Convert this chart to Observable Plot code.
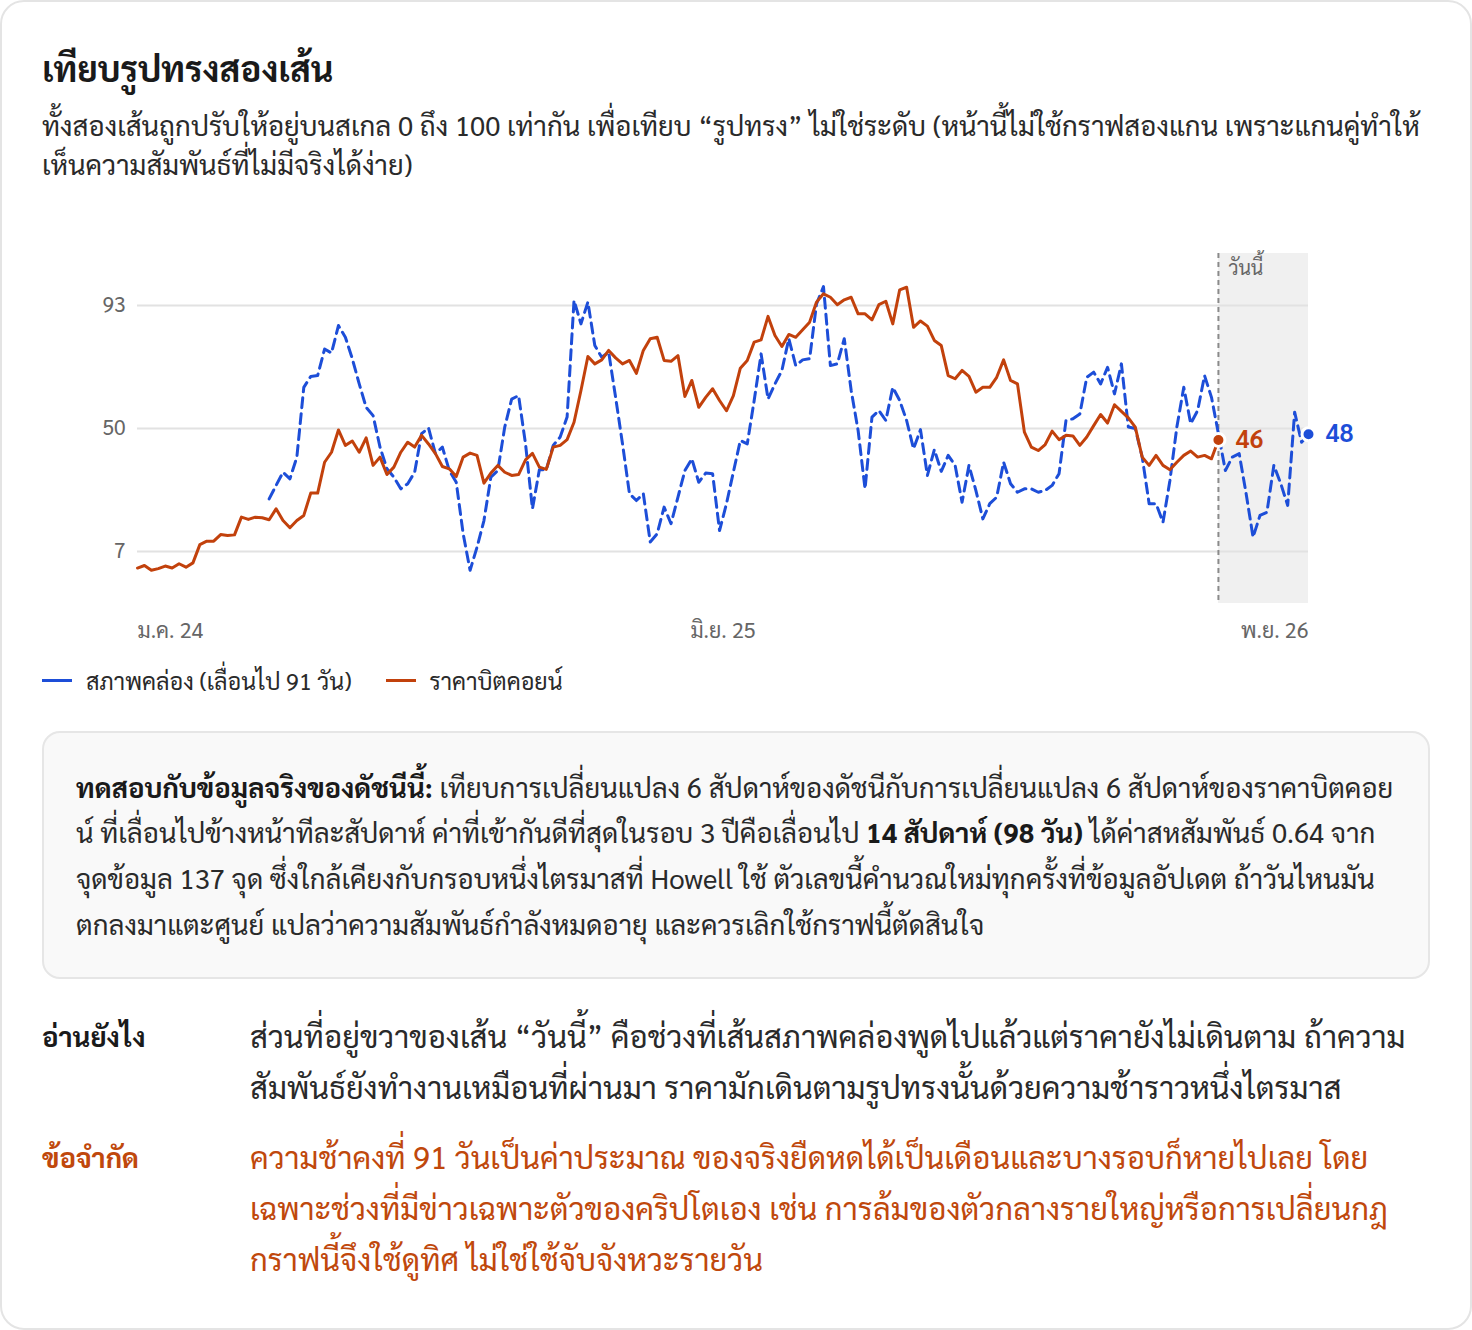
<!DOCTYPE html>
<html lang="th">
<head>
<meta charset="utf-8">
<script src="https://cdn.jsdelivr.net/npm/d3@7"></script>
<script src="https://cdn.jsdelivr.net/npm/@observablehq/plot@0.6"></script>
<style>
  html, body { margin: 0; padding: 0; background: #fff; }
  body { font-family: Sarabun, "Noto Sans Thai", sans-serif; color: #1f1f1f; }
  .card { position: relative; box-sizing: border-box; width: 1472px; height: 1330px;
          border: 2px solid #e4e4e4; border-radius: 24px; background: #fff; overflow: hidden; }
  .abs { position: absolute; }
  .title { left: 40px; top: 43px; margin: 0; font-size: 35px; font-weight: 700; line-height: 45px; color: #1a1a1a; white-space: nowrap; }
  .sub { left: 40px; top: 104px; width: 1390px; margin: 0; font-size: 27.5px; line-height: 38.5px; color: #2a2a2a; }
  #chart { left: 40px; top: 220px; }
  .legend { left: 40px; top: 663px; display: flex; align-items: center; font-size: 23.3px; line-height: 30px; color: #2a2a2a; white-space: nowrap; }
  .legend .sw { display: inline-block; width: 30px; height: 3px; margin-right: 14px; }
  .legend .item { display: flex; align-items: center; margin-right: 34px; }
  .box { left: 40px; top: 729px; box-sizing: border-box; width: 1388px; height: 248px;
         border: 2px solid #e6e6e6; border-radius: 18px; background: #f9f9f9;
         padding: 30.6px 30px 0 32px; font-size: 27.5px; line-height: 45.7px; color: #2a2a2a; }
  .box b { font-weight: 700; color: #1a1a1a; }
  .row { left: 40px; display: flex; width: 1390px; }
  .row .lab { width: 208px; flex: none; font-size: 27.5px; font-weight: 700; line-height: 51px; color: #1a1a1a; }
  .row .txt { flex: 1; font-size: 31px; line-height: 51px; color: #2a2a2a; }
  .row.lim .lab, .row.lim .txt { color: #c0480c; }
</style>
</head>
<body>
<div class="card">
  <h1 class="abs title">เทียบรูปทรงสองเส้น</h1>
  <p class="abs sub">ทั้งสองเส้นถูกปรับให้อยู่บนสเกล 0 ถึง 100 เท่ากัน เพื่อเทียบ “รูปทรง” ไม่ใช่ระดับ (หน้านี้ไม่ใช้กราฟสองแกน เพราะแกนคู่ทำให้เห็นความสัมพันธ์ที่ไม่มีจริงได้ง่าย)</p>
  <div id="chart" class="abs"></div>
  <div class="abs legend" id="legend"></div>
  <div class="abs box"><b>ทดสอบกับข้อมูลจริงของดัชนีนี้:</b> เทียบการเปลี่ยนแปลง 6 สัปดาห์ของดัชนีกับการเปลี่ยนแปลง 6 สัปดาห์ของราคาบิตคอยน์ ที่เลื่อนไปข้างหน้าทีละสัปดาห์ ค่าที่เข้ากันดีที่สุดในรอบ 3 ปีคือเลื่อนไป <b>14 สัปดาห์ (98 วัน)</b> ได้ค่าสหสัมพันธ์ 0.64 จากจุดข้อมูล 137 จุด ซึ่งใกล้เคียงกับกรอบหนึ่งไตรมาสที่ Howell ใช้ ตัวเลขนี้คำนวณใหม่ทุกครั้งที่ข้อมูลอัปเดต ถ้าวันไหนมันตกลงมาแตะศูนย์ แปลว่าความสัมพันธ์กำลังหมดอายุ และควรเลิกใช้กราฟนี้ตัดสินใจ</div>
  <div class="abs row" style="top:1008px"><div class="lab">อ่านยังไง</div><div class="txt">ส่วนที่อยู่ขวาของเส้น “วันนี้” คือช่วงที่เส้นสภาพคล่องพูดไปแล้วแต่ราคายังไม่เดินตาม ถ้าความสัมพันธ์ยังทำงานเหมือนที่ผ่านมา ราคามักเดินตามรูปทรงนั้นด้วยความช้าราวหนึ่งไตรมาส</div></div>
  <div class="abs row lim" style="top:1129px"><div class="lab">ข้อจำกัด</div><div class="txt">ความช้าคงที่ 91 วันเป็นค่าประมาณ ของจริงยืดหดได้เป็นเดือนและบางรอบก็หายไปเลย โดยเฉพาะช่วงที่มีข่าวเฉพาะตัวของคริปโตเอง เช่น การล้มของตัวกลางรายใหญ่หรือการเปลี่ยนกฎ กราฟนี้จึงใช้ดูทิศ ไม่ใช่ใช้จับจังหวะรายวัน</div></div>
</div>
<script>
// ---- data (0–100 rescaled, weekly) ----
const seriesNames = ["สภาพคล่อง (เลื่อนไป 91 วัน)", "ราคาบิตคอยน์"];
const seriesColors = ["#1d4ed8", "#c2410c"];
const shiftDays = 91;
const liquidityFirstWeek = 6;
const todayLabel = "วันนี้";
const xTickLabels = ["ม.ค. 24", "มิ.ย. 25", "พ.ย. 26"];
const yTicks = [7, 50, 93];

const priceValues = [
  1.2, 2.1, 0.4, 1.0, 1.9, 1.2, 2.7, 1.5, 3.0, 9.4,
  10.6, 10.6, 12.9, 12.6, 12.8, 19.0, 18.2, 19.0, 18.8, 18.1,
  21.9, 17.8, 15.3, 17.8, 19.6, 27.4, 27.4, 38.2, 41.7, 49.5,
  44.1, 45.6, 41.7, 46.7, 37.1, 40.0, 33.9, 36.5, 41.7, 45.2,
  43.5, 47.6, 44.6, 41.2, 36.7, 35.9, 33.2, 40.0, 41.4, 40.6,
  30.9, 34.4, 37.1, 34.7, 33.6, 33.9, 39.0, 41.3, 36.5, 35.7,
  43.5, 44.1, 46.1, 52.2, 63.3, 75.2, 72.6, 74.0, 77.3, 74.7,
  72.6, 73.8, 69.3, 77.3, 81.4, 81.9, 73.8, 73.5, 75.5, 61.2,
  66.8, 57.4, 60.9, 63.9, 59.8, 56.2, 61.5, 71.1, 73.8, 80.2,
  81.0, 89.2, 82.5, 78.7, 82.9, 81.9, 84.5, 87.2, 94.2, 97.1,
  95.9, 93.3, 95.0, 95.9, 90.1, 90.1, 88.0, 93.3, 94.5, 86.6,
  98.5, 99.4, 85.4, 87.6, 85.8, 80.8, 79.0, 68.5, 67.4, 70.3,
  68.2, 62.7, 64.4, 64.4, 67.9, 74.0, 66.8, 65.6, 48.7, 43.5,
  42.3, 44.4, 49.1, 46.1, 47.6, 47.4, 44.1, 47.0, 51.0, 54.9,
  51.9, 58.3, 56.0, 53.7, 50.5, 40.0, 37.1, 40.6, 37.1, 35.6,
  38.2, 40.6, 42.1, 40.0, 40.6, 39.4, 46.0
];

const liquidityValues = [
  25.4, 30.1, 34.7, 32.4, 40.0, 64.4, 68.2, 68.5, 77.8, 76.4,
  86.0, 81.9, 74.4, 65.6, 57.4, 54.5, 43.5, 35.9, 33.0, 28.9,
  30.7, 34.7, 48.2, 50.2, 41.2, 43.5, 35.3, 31.2, 13.2, 0.4,
  8.5, 17.8, 33.0, 35.3, 50.5, 60.3, 61.5, 44.6, 21.9, 35.6,
  35.6, 44.1, 47.0, 54.0, 94.8, 86.6, 94.2, 79.0, 74.9, 76.7,
  60.9, 44.6, 27.2, 24.8, 27.2, 10.3, 13.2, 22.5, 16.7, 26.0,
  35.3, 39.4, 31.2, 34.4, 34.2, 14.3, 23.7, 34.8, 45.8, 44.6,
  59.8, 76.1, 60.3, 65.6, 70.3, 81.4, 72.0, 74.0, 74.4, 93.6,
  99.6, 72.0, 72.6, 81.4, 63.3, 49.3, 28.9, 54.0, 56.3, 52.8,
  64.4, 59.8, 52.8, 42.9, 49.6, 33.6, 42.6, 35.0, 40.6, 37.1,
  24.2, 37.1, 28.3, 18.4, 23.7, 26.0, 38.2, 30.7, 27.7, 28.9,
  28.9, 27.7, 28.3, 30.1, 34.2, 52.8, 53.4, 55.1, 67.9, 69.7,
  65.6, 71.4, 62.1, 72.6, 50.5, 50.0, 40.0, 23.7, 23.7, 17.2,
  31.8, 50.5, 64.4, 51.7, 56.3, 68.5, 60.9, 48.2, 35.3, 40.0,
  41.2, 27.2, 12.0, 19.6, 20.7, 37.1, 30.7, 23.1, 55.7, 45.2,
  48.0
];

// ---- build rows ----
const DAY = 864e5;
const startDate = new Date(Date.UTC(2023, 7, 14));
const price = priceValues.map((v, i) => ({date: new Date(+startDate + i * 7 * DAY), v}));
const liquidity = liquidityValues.map((v, k) => ({date: new Date(+startDate + (liquidityFirstWeek + k) * 7 * DAY + shiftDays * DAY), v}));
const today = price[price.length - 1];
const liqEnd = liquidity[liquidity.length - 1];
const xDomain = [startDate, liqEnd.date];
const tickDates = [startDate, new Date((+startDate + +liqEnd.date) / 2), liqEnd.date];
const ticks = tickDates.map((d, i) => ({date: d, label: xTickLabels[i]}));
const anchors = ["start", "middle", "end"];
const FONT = "Sarabun, 'Noto Sans Thai', sans-serif";

const chart = Plot.plot({
  width: 1388,
  height: 428,
  marginLeft: 95,
  marginRight: 122,
  marginTop: 31,
  marginBottom: 47,
  style: {fontFamily: FONT, fontSize: "21px", background: "transparent", overflow: "visible"},
  x: {type: "utc", domain: xDomain, axis: null},
  y: {domain: [-11.2, 111.2], axis: null},
  marks: [
    Plot.rectX([{x1: today.date, x2: liqEnd.date}], {x1: "x1", x2: "x2", fill: "#f0f0f0"}),
    Plot.ruleY(yTicks, {stroke: "#e2e2e2", strokeWidth: 2}),
    Plot.axisY({ticks: yTicks, label: null, tickSize: 0, tickPadding: 12, fill: "#666", fontSize: 21, tickFormat: d => String(d)}),
    ...ticks.map((t, i) => Plot.text([t], {x: "date", text: "label", frameAnchor: "bottom", lineAnchor: "middle", dy: 28, textAnchor: anchors[i], fill: "#666", fontSize: 21.5})),
    Plot.ruleX([today], {x: "date", stroke: "#8a8a8a", strokeWidth: 2, strokeDasharray: "5,4"}),
    Plot.text([today], {x: "date", text: () => todayLabel, frameAnchor: "top", lineAnchor: "middle", textAnchor: "start", dx: 10, dy: 15, fill: "#666", fontSize: 19.5}),
    Plot.line(liquidity, {x: "date", y: "v", stroke: seriesColors[0], strokeWidth: 3, strokeDasharray: "10,6", curve: "linear"}),
    Plot.line(price, {x: "date", y: "v", stroke: seriesColors[1], strokeWidth: 3, curve: "linear"}),
    Plot.dot([today], {x: "date", y: "v", r: 6.5, fill: seriesColors[1], stroke: "#fff", strokeWidth: 3}),
    Plot.dot([liqEnd], {x: "date", y: "v", r: 6.5, fill: seriesColors[0], stroke: "#fff", strokeWidth: 3}),
    Plot.text([today], {x: "date", y: "v", text: d => d3.format(".0f")(d.v), textAnchor: "start", dx: 17, fill: seriesColors[1], fontSize: 25, fontWeight: 600}),
    Plot.text([liqEnd], {x: "date", y: "v", text: d => d3.format(".0f")(Math.floor(d.v)), textAnchor: "start", dx: 17, fill: seriesColors[0], fontSize: 25, fontWeight: 600})
  ]
});
document.getElementById("chart").append(chart);

const legend = document.getElementById("legend");
seriesNames.forEach((name, i) => {
  const item = document.createElement("span");
  item.className = "item";
  const sw = document.createElement("span");
  sw.className = "sw";
  sw.style.background = seriesColors[i];
  item.append(sw, document.createTextNode(name));
  legend.append(item);
});
</script>
</body>
</html>
